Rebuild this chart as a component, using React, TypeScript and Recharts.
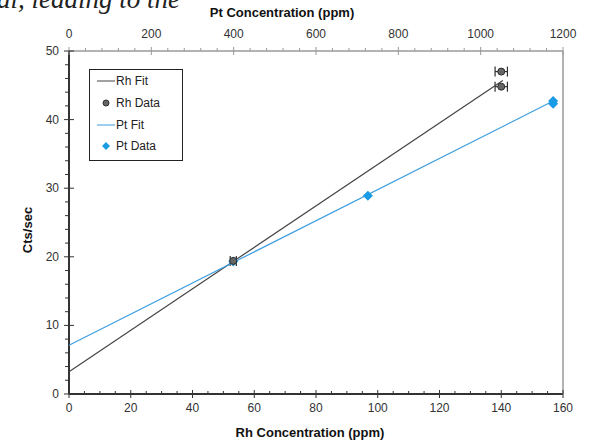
import { ScatterChart, Scatter, XAxis, YAxis, ErrorBar } from "recharts"

// values
const rhConc = [53.2, 140, 140]
const rhCts = [19.4, 47.0, 44.8]
const rhErr = [1, 2, 2]

const ptConc = [399, 726, 1176, 1176]
const ptCts = [19.3, 28.9, 42.7, 42.3]

const rhFitX = [0, 140.5]
const rhFitY = [3.25, 45.7]
const ptFitX = [0, 1176]
const ptFitY = [7.1, 42.7]

const rhTicks = Array.from({ length: 33 }, (_, i) => i * 5)
const ptTicks = Array.from({ length: 31 }, (_, i) => i * 40)
const ctsTicks = Array.from({ length: 26 }, (_, i) => i * 2)

const rhData = rhConc.map((x, i) => ({ x, y: rhCts[i], err: rhErr[i] }))
const ptData = ptConc.map((x, i) => ({ x, y: ptCts[i] }))
const rhFit = rhFitX.map((x, i) => ({ x, y: rhFitY[i] }))
const ptFit = ptFitX.map((x, i) => ({ x, y: ptFitY[i] }))

const FONT = "'Liberation Sans', Arial, sans-serif"
const DARK = "#333"
const GRAY = "#9a9a9a"
const RH_LINE = "#454545"
const PT_LINE = "#3d9ee0"
const PT_DOT = "#1a9be6"

const BottomTick = ({ x, y, payload }: any) => {
  const major = payload.value % 20 === 0
  return (
    <g>
      {major ? <line x1={x} x2={x} y1={y - 4} y2={y + 4} stroke={DARK} /> : <line x1={x} x2={x} y1={y} y2={y - 3} stroke={DARK} />}
      {major && (
        <text x={x} y={y + 18} textAnchor="middle" fontSize={12} fill={DARK} fontFamily={FONT}>
          {payload.value}
        </text>
      )}
    </g>
  )
}

const TopTick = ({ x, y, payload }: any) => {
  const major = payload.value % 200 === 0
  return (
    <g>
      {major ? <line x1={x} x2={x} y1={y - 4} y2={y + 4} stroke={GRAY} /> : <line x1={x} x2={x} y1={y} y2={y - 3} stroke={GRAY} />}
      {major && (
        <text x={x} y={y - 13} textAnchor="middle" fontSize={12} fill={DARK} fontFamily={FONT}>
          {payload.value}
        </text>
      )}
    </g>
  )
}

const LeftTick = ({ x, y, payload }: any) => {
  const major = payload.value % 10 === 0
  return (
    <g>
      {major ? <line x1={x - 5} x2={x + 5} y1={y} y2={y} stroke={DARK} /> : <line x1={x} x2={x - 4} y1={y} y2={y} stroke={DARK} />}
      {major && (
        <text x={x - 10} y={y + 4} textAnchor="end" fontSize={12} fill={DARK} fontFamily={FONT}>
          {payload.value}
        </text>
      )}
    </g>
  )
}

const RightTick = ({ x, y, payload }: any) => {
  const major = payload.value % 10 === 0
  return major ? <line x1={x - 4} x2={x + 4} y1={y} y2={y} stroke={GRAY} /> : <line x1={x} x2={x + 3} y1={y} y2={y} stroke={GRAY} />
}

const RhDot = ({ cx, cy }: any) => <circle cx={cx} cy={cy} r={3.5} fill="#666" stroke="#2e2e2e" strokeWidth={1} />
const PtDot = ({ cx, cy }: any) => (
  <path d={`M${cx},${cy - 5}L${cx + 5},${cy}L${cx},${cy + 5}L${cx - 5},${cy}Z`} fill={PT_DOT} />
)
const NoDot = () => <g />

const LegendBox = () => (
  <svg width={94} height={92} style={{ fontFamily: FONT, fontSize: 12, position: "absolute", left: 89, top: 69 }}>
    <rect x={0.5} y={0.5} width={93} height={91} fill="#fff" stroke="#222" />
    <line x1={8} x2={26} y1={12} y2={12} stroke={RH_LINE} />
    <text x={27} y={16} fill="#222">Rh Fit</text>
    <circle cx={17} cy={34} r={3} fill="#666" stroke="#2e2e2e" />
    <text x={27} y={38} fill="#222">Rh Data</text>
    <line x1={8} x2={26} y1={56} y2={56} stroke={PT_LINE} />
    <text x={27} y={60} fill="#222">Pt Fit</text>
    <path d="M17,73L21,77L17,81L13,77Z" fill={PT_DOT} />
    <text x={27} y={81} fill="#222">Pt Data</text>
  </svg>
)

export default function App() {
  return (
    <div style={{ position: "absolute", left: 0, top: 0, width: 607, height: 440, overflow: "hidden", background: "#fff" }}>
      <svg width={607} height={20} style={{ position: "absolute", left: 0, top: 0 }}>
        <text x={-3} y={8} fontSize={27} fontFamily="'Liberation Serif', serif" fontStyle="italic" fill="#222">
          al, leading to the
        </text>
      </svg>
      <ScatterChart width={607} height={440} margin={{ top: 0, right: 0, bottom: 0, left: 0 }} style={{ fontFamily: FONT }}>
        <XAxis
          xAxisId="rh"
          type="number"
          dataKey="x"
          orientation="bottom"
          domain={[0, 160]}
          ticks={rhTicks}
          interval={0}
          height={46}
          tickSize={0}
          tickMargin={0}
          tickLine={false}
          tick={<BottomTick />}
          axisLine={{ stroke: DARK, strokeWidth: 2 }}
          label={{ value: "Rh Concentration (ppm)", position: "insideBottom", offset: 3, dx: -6, fontSize: 13, fontWeight: "bold", fill: "#111" }}
        />
        <XAxis
          xAxisId="pt"
          type="number"
          dataKey="x"
          orientation="top"
          domain={[0, 1200]}
          ticks={ptTicks}
          interval={0}
          height={51}
          tickSize={0}
          tickMargin={0}
          tickLine={false}
          tick={<TopTick />}
          axisLine={{ stroke: GRAY, strokeWidth: 1.5 }}
          label={{ value: "Pt Concentration (ppm)", position: "insideTop", offset: 8, dx: -34, fontSize: 13, fontWeight: "bold", fill: "#111" }}
        />
        <YAxis
          yAxisId="cts"
          type="number"
          dataKey="y"
          domain={[0, 50]}
          ticks={ctsTicks}
          interval={0}
          width={69}
          tickSize={0}
          tickMargin={0}
          tickLine={false}
          tick={<LeftTick />}
          axisLine={{ stroke: DARK, strokeWidth: 2 }}
        />
        <YAxis
          yAxisId="right"
          orientation="right"
          type="number"
          dataKey="y"
          domain={[0, 50]}
          ticks={ctsTicks}
          interval={0}
          width={44}
          tickSize={0}
          tickMargin={0}
          tickLine={false}
          tick={<RightTick />}
          axisLine={{ stroke: GRAY, strokeWidth: 1.5 }}
        />
        <Scatter
          name="Rh Fit"
          data={rhFit}
          xAxisId="rh"
          yAxisId="cts"
          line={{ stroke: RH_LINE, strokeWidth: 1.2 }}
          shape={<NoDot />}
          isAnimationActive={false}
        />
        <Scatter
          name="Pt Fit"
          data={ptFit}
          xAxisId="pt"
          yAxisId="cts"
          line={{ stroke: PT_LINE, strokeWidth: 1.2 }}
          shape={<NoDot />}
          isAnimationActive={false}
        />
        <Scatter name="Pt Data" data={ptData} xAxisId="pt" yAxisId="cts" shape={<PtDot />} isAnimationActive={false} />
        <Scatter name="Rh Data" data={rhData} xAxisId="rh" yAxisId="cts" shape={<RhDot />} isAnimationActive={false}>
          <ErrorBar dataKey="err" direction="x" width={5} stroke="#2e2e2e" strokeWidth={1.2} />
        </Scatter>
      </ScatterChart>
      <svg width={40} height={440} style={{ position: "absolute", left: 0, top: 0 }}>
        <text x={32} y={230} transform="rotate(-90 32 230)" textAnchor="middle" fontSize={13} fontWeight="bold" fill="#111" fontFamily={FONT}>
          Cts/sec
        </text>
      </svg>
      <LegendBox />
    </div>
  )
}
